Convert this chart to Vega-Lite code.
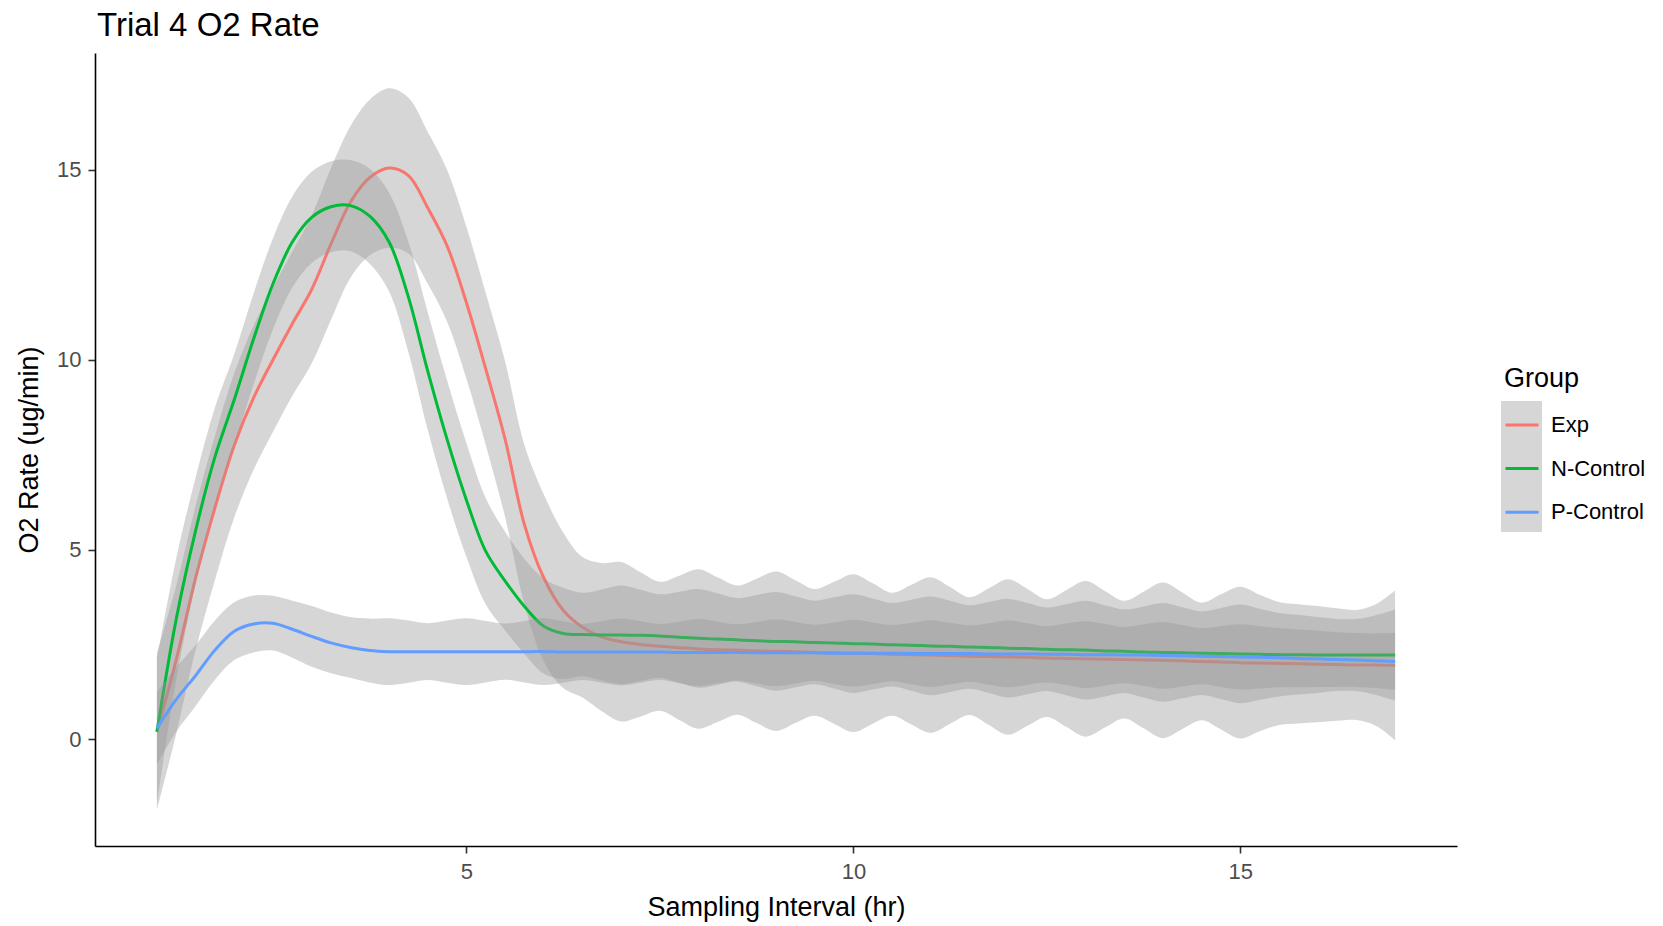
{
  "$schema": "https://vega.github.io/schema/vega-lite/v6.json",
  "width": 1362,
  "height": 793,
  "autosize": {"type": "none"},
  "padding": {"left": 95, "top": 53, "right": 206, "bottom": 80},
  "background": "white",
  "config": {
    "font": "Liberation Sans",
    "view": {"stroke": null},
    "axis": {
      "grid": false,
      "domainColor": "black",
      "domainWidth": 1.6,
      "tickColor": "#333333",
      "tickWidth": 1.6,
      "tickSize": 7,
      "labelColor": "#4D4D4D",
      "labelFontSize": 22,
      "labelFont": "Liberation Sans",
      "titleFont": "Liberation Sans",
      "titleFontSize": 27,
      "titleFontWeight": "normal",
      "titleColor": "black"
    }
  },
  "title": {
    "text": "Trial 4 O2 Rate",
    "anchor": "start",
    "frame": "group",
    "fontSize": 33,
    "fontWeight": "normal",
    "font": "Liberation Sans",
    "color": "black",
    "baseline": "alphabetic",
    "offset": 16,
    "dx": 2,
    "dy": 32
  },
  "data": {
    "values": [
      {"Group": "Exp", "hr": 1, "fit": 0.2, "lo": -1.86, "hi": 2.26},
      {"Group": "Exp", "hr": 1.25, "fit": 2.1, "lo": 0.15, "hi": 4.05},
      {"Group": "Exp", "hr": 1.5, "fit": 4.25, "lo": 2.35, "hi": 6.15},
      {"Group": "Exp", "hr": 1.75, "fit": 6.1, "lo": 4.2, "hi": 8.0},
      {"Group": "Exp", "hr": 2, "fit": 7.75, "lo": 5.85, "hi": 9.65},
      {"Group": "Exp", "hr": 2.25, "fit": 9.0, "lo": 7.1, "hi": 10.9},
      {"Group": "Exp", "hr": 2.5, "fit": 10.0, "lo": 8.1, "hi": 11.9},
      {"Group": "Exp", "hr": 2.75, "fit": 10.95, "lo": 9.05, "hi": 12.85},
      {"Group": "Exp", "hr": 3, "fit": 11.85, "lo": 9.9, "hi": 13.8},
      {"Group": "Exp", "hr": 3.25, "fit": 13.05, "lo": 11.05, "hi": 15.05},
      {"Group": "Exp", "hr": 3.5, "fit": 14.15, "lo": 12.15, "hi": 16.15},
      {"Group": "Exp", "hr": 3.75, "fit": 14.8, "lo": 12.75, "hi": 16.85},
      {"Group": "Exp", "hr": 4, "fit": 15.05, "lo": 12.95, "hi": 17.15},
      {"Group": "Exp", "hr": 4.25, "fit": 14.85, "lo": 12.8, "hi": 16.9},
      {"Group": "Exp", "hr": 4.5, "fit": 14.0, "lo": 12.0, "hi": 16.0},
      {"Group": "Exp", "hr": 4.75, "fit": 13.0, "lo": 11.0, "hi": 15.0},
      {"Group": "Exp", "hr": 5, "fit": 11.5, "lo": 9.5, "hi": 13.5},
      {"Group": "Exp", "hr": 5.25, "fit": 9.75, "lo": 7.75, "hi": 11.75},
      {"Group": "Exp", "hr": 5.5, "fit": 7.9, "lo": 5.85, "hi": 9.95},
      {"Group": "Exp", "hr": 5.75, "fit": 5.65, "lo": 3.55, "hi": 7.75},
      {"Group": "Exp", "hr": 6, "fit": 4.25, "lo": 2.05, "hi": 6.45},
      {"Group": "Exp", "hr": 6.25, "fit": 3.4, "lo": 1.35, "hi": 5.45},
      {"Group": "Exp", "hr": 6.5, "fit": 2.95, "lo": 1.1, "hi": 4.8},
      {"Group": "Exp", "hr": 6.75, "fit": 2.69, "lo": 0.74, "hi": 4.64},
      {"Group": "Exp", "hr": 7, "fit": 2.57, "lo": 0.47, "hi": 4.67},
      {"Group": "Exp", "hr": 7.25, "fit": 2.5, "lo": 0.6, "hi": 4.4},
      {"Group": "Exp", "hr": 7.5, "fit": 2.45, "lo": 0.75, "hi": 4.15},
      {"Group": "Exp", "hr": 7.75, "fit": 2.41, "lo": 0.51, "hi": 4.31},
      {"Group": "Exp", "hr": 8, "fit": 2.38, "lo": 0.28, "hi": 4.48},
      {"Group": "Exp", "hr": 8.25, "fit": 2.36, "lo": 0.46, "hi": 4.26},
      {"Group": "Exp", "hr": 8.5, "fit": 2.35, "lo": 0.65, "hi": 4.05},
      {"Group": "Exp", "hr": 8.75, "fit": 2.33, "lo": 0.43, "hi": 4.23},
      {"Group": "Exp", "hr": 9, "fit": 2.32, "lo": 0.22, "hi": 4.42},
      {"Group": "Exp", "hr": 9.25, "fit": 2.31, "lo": 0.43, "hi": 4.19},
      {"Group": "Exp", "hr": 9.5, "fit": 2.29, "lo": 0.62, "hi": 3.96},
      {"Group": "Exp", "hr": 9.75, "fit": 2.28, "lo": 0.41, "hi": 4.15},
      {"Group": "Exp", "hr": 10, "fit": 2.27, "lo": 0.19, "hi": 4.35},
      {"Group": "Exp", "hr": 10.25, "fit": 2.26, "lo": 0.41, "hi": 4.11},
      {"Group": "Exp", "hr": 10.5, "fit": 2.24, "lo": 0.62, "hi": 3.86},
      {"Group": "Exp", "hr": 10.75, "fit": 2.23, "lo": 0.39, "hi": 4.07},
      {"Group": "Exp", "hr": 11, "fit": 2.22, "lo": 0.17, "hi": 4.27},
      {"Group": "Exp", "hr": 11.25, "fit": 2.21, "lo": 0.41, "hi": 4.01},
      {"Group": "Exp", "hr": 11.5, "fit": 2.19, "lo": 0.64, "hi": 3.74},
      {"Group": "Exp", "hr": 11.75, "fit": 2.18, "lo": 0.38, "hi": 3.98},
      {"Group": "Exp", "hr": 12, "fit": 2.17, "lo": 0.12, "hi": 4.22},
      {"Group": "Exp", "hr": 12.25, "fit": 2.16, "lo": 0.36, "hi": 3.96},
      {"Group": "Exp", "hr": 12.5, "fit": 2.14, "lo": 0.59, "hi": 3.69},
      {"Group": "Exp", "hr": 12.75, "fit": 2.13, "lo": 0.33, "hi": 3.93},
      {"Group": "Exp", "hr": 13, "fit": 2.12, "lo": 0.07, "hi": 4.17},
      {"Group": "Exp", "hr": 13.25, "fit": 2.11, "lo": 0.31, "hi": 3.91},
      {"Group": "Exp", "hr": 13.5, "fit": 2.1, "lo": 0.55, "hi": 3.65},
      {"Group": "Exp", "hr": 13.75, "fit": 2.09, "lo": 0.29, "hi": 3.89},
      {"Group": "Exp", "hr": 14, "fit": 2.08, "lo": 0.03, "hi": 4.13},
      {"Group": "Exp", "hr": 14.25, "fit": 2.07, "lo": 0.27, "hi": 3.87},
      {"Group": "Exp", "hr": 14.5, "fit": 2.05, "lo": 0.5, "hi": 3.6},
      {"Group": "Exp", "hr": 14.75, "fit": 2.04, "lo": 0.26, "hi": 3.82},
      {"Group": "Exp", "hr": 15, "fit": 2.02, "lo": 0.02, "hi": 4.02},
      {"Group": "Exp", "hr": 15.25, "fit": 2.01, "lo": 0.21, "hi": 3.81},
      {"Group": "Exp", "hr": 15.5, "fit": 2.0, "lo": 0.38, "hi": 3.62},
      {"Group": "Exp", "hr": 15.75, "fit": 1.99, "lo": 0.42, "hi": 3.56},
      {"Group": "Exp", "hr": 16, "fit": 1.98, "lo": 0.45, "hi": 3.51},
      {"Group": "Exp", "hr": 16.25, "fit": 1.97, "lo": 0.49, "hi": 3.45},
      {"Group": "Exp", "hr": 16.5, "fit": 1.96, "lo": 0.51, "hi": 3.41},
      {"Group": "Exp", "hr": 16.75, "fit": 1.96, "lo": 0.36, "hi": 3.56},
      {"Group": "Exp", "hr": 17, "fit": 1.95, "lo": -0.02, "hi": 3.92},

      {"Group": "N-Control", "hr": 1, "fit": 0.2, "lo": -1.7, "hi": 2.1},
      {"Group": "N-Control", "hr": 1.25, "fit": 3.17, "lo": 1.57, "hi": 4.77},
      {"Group": "N-Control", "hr": 1.5, "fit": 5.5, "lo": 4.1, "hi": 6.9},
      {"Group": "N-Control", "hr": 1.75, "fit": 7.44, "lo": 6.14, "hi": 8.74},
      {"Group": "N-Control", "hr": 2, "fit": 8.95, "lo": 7.75, "hi": 10.15},
      {"Group": "N-Control", "hr": 2.25, "fit": 10.55, "lo": 9.35, "hi": 11.75},
      {"Group": "N-Control", "hr": 2.5, "fit": 12.0, "lo": 10.8, "hi": 13.2},
      {"Group": "N-Control", "hr": 2.75, "fit": 13.1, "lo": 11.9, "hi": 14.3},
      {"Group": "N-Control", "hr": 3, "fit": 13.75, "lo": 12.55, "hi": 14.95},
      {"Group": "N-Control", "hr": 3.25, "fit": 14.03, "lo": 12.83, "hi": 15.23},
      {"Group": "N-Control", "hr": 3.5, "fit": 14.06, "lo": 12.86, "hi": 15.26},
      {"Group": "N-Control", "hr": 3.75, "fit": 13.78, "lo": 12.53, "hi": 15.03},
      {"Group": "N-Control", "hr": 4, "fit": 13.1, "lo": 11.8, "hi": 14.4},
      {"Group": "N-Control", "hr": 4.25, "fit": 11.65, "lo": 10.2, "hi": 13.1},
      {"Group": "N-Control", "hr": 4.5, "fit": 9.7, "lo": 8.15, "hi": 11.25},
      {"Group": "N-Control", "hr": 4.75, "fit": 7.9, "lo": 6.35, "hi": 9.45},
      {"Group": "N-Control", "hr": 5, "fit": 6.3, "lo": 4.8, "hi": 7.8},
      {"Group": "N-Control", "hr": 5.25, "fit": 4.95, "lo": 3.55, "hi": 6.35},
      {"Group": "N-Control", "hr": 5.5, "fit": 4.17, "lo": 2.87, "hi": 5.47},
      {"Group": "N-Control", "hr": 5.75, "fit": 3.5, "lo": 2.25, "hi": 4.75},
      {"Group": "N-Control", "hr": 6, "fit": 2.98, "lo": 1.73, "hi": 4.23},
      {"Group": "N-Control", "hr": 6.25, "fit": 2.79, "lo": 1.59, "hi": 3.99},
      {"Group": "N-Control", "hr": 6.5, "fit": 2.76, "lo": 1.66, "hi": 3.86},
      {"Group": "N-Control", "hr": 6.75, "fit": 2.75, "lo": 1.55, "hi": 3.95},
      {"Group": "N-Control", "hr": 7, "fit": 2.75, "lo": 1.45, "hi": 4.05},
      {"Group": "N-Control", "hr": 7.25, "fit": 2.74, "lo": 1.54, "hi": 3.94},
      {"Group": "N-Control", "hr": 7.5, "fit": 2.72, "lo": 1.62, "hi": 3.82},
      {"Group": "N-Control", "hr": 7.75, "fit": 2.69, "lo": 1.49, "hi": 3.89},
      {"Group": "N-Control", "hr": 8, "fit": 2.66, "lo": 1.36, "hi": 3.96},
      {"Group": "N-Control", "hr": 8.25, "fit": 2.64, "lo": 1.44, "hi": 3.84},
      {"Group": "N-Control", "hr": 8.5, "fit": 2.62, "lo": 1.52, "hi": 3.72},
      {"Group": "N-Control", "hr": 8.75, "fit": 2.6, "lo": 1.4, "hi": 3.8},
      {"Group": "N-Control", "hr": 9, "fit": 2.58, "lo": 1.28, "hi": 3.88},
      {"Group": "N-Control", "hr": 9.25, "fit": 2.57, "lo": 1.37, "hi": 3.77},
      {"Group": "N-Control", "hr": 9.5, "fit": 2.55, "lo": 1.45, "hi": 3.65},
      {"Group": "N-Control", "hr": 9.75, "fit": 2.54, "lo": 1.34, "hi": 3.74},
      {"Group": "N-Control", "hr": 10, "fit": 2.52, "lo": 1.22, "hi": 3.82},
      {"Group": "N-Control", "hr": 10.25, "fit": 2.51, "lo": 1.31, "hi": 3.71},
      {"Group": "N-Control", "hr": 10.5, "fit": 2.49, "lo": 1.39, "hi": 3.59},
      {"Group": "N-Control", "hr": 10.75, "fit": 2.48, "lo": 1.28, "hi": 3.68},
      {"Group": "N-Control", "hr": 11, "fit": 2.46, "lo": 1.16, "hi": 3.76},
      {"Group": "N-Control", "hr": 11.25, "fit": 2.45, "lo": 1.25, "hi": 3.65},
      {"Group": "N-Control", "hr": 11.5, "fit": 2.43, "lo": 1.33, "hi": 3.53},
      {"Group": "N-Control", "hr": 11.75, "fit": 2.42, "lo": 1.22, "hi": 3.62},
      {"Group": "N-Control", "hr": 12, "fit": 2.4, "lo": 1.1, "hi": 3.7},
      {"Group": "N-Control", "hr": 12.25, "fit": 2.39, "lo": 1.19, "hi": 3.59},
      {"Group": "N-Control", "hr": 12.5, "fit": 2.37, "lo": 1.27, "hi": 3.47},
      {"Group": "N-Control", "hr": 12.75, "fit": 2.36, "lo": 1.16, "hi": 3.56},
      {"Group": "N-Control", "hr": 13, "fit": 2.35, "lo": 1.05, "hi": 3.65},
      {"Group": "N-Control", "hr": 13.25, "fit": 2.33, "lo": 1.13, "hi": 3.53},
      {"Group": "N-Control", "hr": 13.5, "fit": 2.32, "lo": 1.22, "hi": 3.42},
      {"Group": "N-Control", "hr": 13.75, "fit": 2.3, "lo": 1.1, "hi": 3.5},
      {"Group": "N-Control", "hr": 14, "fit": 2.29, "lo": 0.99, "hi": 3.59},
      {"Group": "N-Control", "hr": 14.25, "fit": 2.28, "lo": 1.08, "hi": 3.48},
      {"Group": "N-Control", "hr": 14.5, "fit": 2.27, "lo": 1.17, "hi": 3.37},
      {"Group": "N-Control", "hr": 14.75, "fit": 2.26, "lo": 1.06, "hi": 3.46},
      {"Group": "N-Control", "hr": 15, "fit": 2.25, "lo": 0.95, "hi": 3.55},
      {"Group": "N-Control", "hr": 15.25, "fit": 2.24, "lo": 1.04, "hi": 3.44},
      {"Group": "N-Control", "hr": 15.5, "fit": 2.23, "lo": 1.13, "hi": 3.33},
      {"Group": "N-Control", "hr": 15.75, "fit": 2.23, "lo": 1.18, "hi": 3.28},
      {"Group": "N-Control", "hr": 16, "fit": 2.22, "lo": 1.22, "hi": 3.22},
      {"Group": "N-Control", "hr": 16.25, "fit": 2.22, "lo": 1.27, "hi": 3.17},
      {"Group": "N-Control", "hr": 16.5, "fit": 2.22, "lo": 1.27, "hi": 3.17},
      {"Group": "N-Control", "hr": 16.75, "fit": 2.22, "lo": 1.17, "hi": 3.27},
      {"Group": "N-Control", "hr": 17, "fit": 2.22, "lo": 1.02, "hi": 3.42},

      {"Group": "P-Control", "hr": 1, "fit": 0.29, "lo": -0.66, "hi": 1.24},
      {"Group": "P-Control", "hr": 1.25, "fit": 1.05, "lo": 0.2, "hi": 1.9},
      {"Group": "P-Control", "hr": 1.5, "fit": 1.68, "lo": 0.88, "hi": 2.48},
      {"Group": "P-Control", "hr": 1.75, "fit": 2.35, "lo": 1.57, "hi": 3.13},
      {"Group": "P-Control", "hr": 2, "fit": 2.85, "lo": 2.09, "hi": 3.61},
      {"Group": "P-Control", "hr": 2.25, "fit": 3.04, "lo": 2.29, "hi": 3.79},
      {"Group": "P-Control", "hr": 2.5, "fit": 3.06, "lo": 2.34, "hi": 3.78},
      {"Group": "P-Control", "hr": 2.75, "fit": 2.9, "lo": 2.15, "hi": 3.65},
      {"Group": "P-Control", "hr": 3, "fit": 2.71, "lo": 1.91, "hi": 3.51},
      {"Group": "P-Control", "hr": 3.25, "fit": 2.54, "lo": 1.74, "hi": 3.34},
      {"Group": "P-Control", "hr": 3.5, "fit": 2.42, "lo": 1.62, "hi": 3.22},
      {"Group": "P-Control", "hr": 3.75, "fit": 2.34, "lo": 1.5, "hi": 3.18},
      {"Group": "P-Control", "hr": 4, "fit": 2.31, "lo": 1.43, "hi": 3.19},
      {"Group": "P-Control", "hr": 4.25, "fit": 2.31, "lo": 1.49, "hi": 3.13},
      {"Group": "P-Control", "hr": 4.5, "fit": 2.31, "lo": 1.56, "hi": 3.06},
      {"Group": "P-Control", "hr": 4.75, "fit": 2.31, "lo": 1.49, "hi": 3.13},
      {"Group": "P-Control", "hr": 5, "fit": 2.31, "lo": 1.43, "hi": 3.19},
      {"Group": "P-Control", "hr": 5.25, "fit": 2.31, "lo": 1.5, "hi": 3.12},
      {"Group": "P-Control", "hr": 5.5, "fit": 2.31, "lo": 1.57, "hi": 3.05},
      {"Group": "P-Control", "hr": 5.75, "fit": 2.31, "lo": 1.5, "hi": 3.12},
      {"Group": "P-Control", "hr": 6, "fit": 2.31, "lo": 1.43, "hi": 3.19},
      {"Group": "P-Control", "hr": 6.25, "fit": 2.3, "lo": 1.49, "hi": 3.11},
      {"Group": "P-Control", "hr": 6.5, "fit": 2.3, "lo": 1.56, "hi": 3.04},
      {"Group": "P-Control", "hr": 6.75, "fit": 2.3, "lo": 1.49, "hi": 3.11},
      {"Group": "P-Control", "hr": 7, "fit": 2.3, "lo": 1.42, "hi": 3.18},
      {"Group": "P-Control", "hr": 7.25, "fit": 2.3, "lo": 1.49, "hi": 3.11},
      {"Group": "P-Control", "hr": 7.5, "fit": 2.3, "lo": 1.56, "hi": 3.04},
      {"Group": "P-Control", "hr": 7.75, "fit": 2.29, "lo": 1.48, "hi": 3.1},
      {"Group": "P-Control", "hr": 8, "fit": 2.29, "lo": 1.41, "hi": 3.17},
      {"Group": "P-Control", "hr": 8.25, "fit": 2.29, "lo": 1.48, "hi": 3.1},
      {"Group": "P-Control", "hr": 8.5, "fit": 2.29, "lo": 1.55, "hi": 3.03},
      {"Group": "P-Control", "hr": 8.75, "fit": 2.28, "lo": 1.47, "hi": 3.09},
      {"Group": "P-Control", "hr": 9, "fit": 2.28, "lo": 1.4, "hi": 3.16},
      {"Group": "P-Control", "hr": 9.25, "fit": 2.28, "lo": 1.47, "hi": 3.09},
      {"Group": "P-Control", "hr": 9.5, "fit": 2.28, "lo": 1.54, "hi": 3.02},
      {"Group": "P-Control", "hr": 9.75, "fit": 2.27, "lo": 1.46, "hi": 3.08},
      {"Group": "P-Control", "hr": 10, "fit": 2.27, "lo": 1.39, "hi": 3.15},
      {"Group": "P-Control", "hr": 10.25, "fit": 2.27, "lo": 1.46, "hi": 3.08},
      {"Group": "P-Control", "hr": 10.5, "fit": 2.27, "lo": 1.53, "hi": 3.01},
      {"Group": "P-Control", "hr": 10.75, "fit": 2.26, "lo": 1.45, "hi": 3.07},
      {"Group": "P-Control", "hr": 11, "fit": 2.26, "lo": 1.38, "hi": 3.14},
      {"Group": "P-Control", "hr": 11.25, "fit": 2.26, "lo": 1.45, "hi": 3.07},
      {"Group": "P-Control", "hr": 11.5, "fit": 2.26, "lo": 1.52, "hi": 3.0},
      {"Group": "P-Control", "hr": 11.75, "fit": 2.25, "lo": 1.44, "hi": 3.06},
      {"Group": "P-Control", "hr": 12, "fit": 2.25, "lo": 1.37, "hi": 3.13},
      {"Group": "P-Control", "hr": 12.25, "fit": 2.25, "lo": 1.44, "hi": 3.06},
      {"Group": "P-Control", "hr": 12.5, "fit": 2.24, "lo": 1.5, "hi": 2.98},
      {"Group": "P-Control", "hr": 12.75, "fit": 2.24, "lo": 1.43, "hi": 3.05},
      {"Group": "P-Control", "hr": 13, "fit": 2.23, "lo": 1.35, "hi": 3.11},
      {"Group": "P-Control", "hr": 13.25, "fit": 2.23, "lo": 1.42, "hi": 3.04},
      {"Group": "P-Control", "hr": 13.5, "fit": 2.22, "lo": 1.48, "hi": 2.96},
      {"Group": "P-Control", "hr": 13.75, "fit": 2.22, "lo": 1.41, "hi": 3.03},
      {"Group": "P-Control", "hr": 14, "fit": 2.21, "lo": 1.33, "hi": 3.09},
      {"Group": "P-Control", "hr": 14.25, "fit": 2.2, "lo": 1.39, "hi": 3.01},
      {"Group": "P-Control", "hr": 14.5, "fit": 2.19, "lo": 1.45, "hi": 2.93},
      {"Group": "P-Control", "hr": 14.75, "fit": 2.18, "lo": 1.38, "hi": 2.98},
      {"Group": "P-Control", "hr": 15, "fit": 2.17, "lo": 1.31, "hi": 3.03},
      {"Group": "P-Control", "hr": 15.25, "fit": 2.16, "lo": 1.34, "hi": 2.98},
      {"Group": "P-Control", "hr": 15.5, "fit": 2.15, "lo": 1.37, "hi": 2.93},
      {"Group": "P-Control", "hr": 15.75, "fit": 2.13, "lo": 1.37, "hi": 2.89},
      {"Group": "P-Control", "hr": 16, "fit": 2.12, "lo": 1.38, "hi": 2.86},
      {"Group": "P-Control", "hr": 16.25, "fit": 2.1, "lo": 1.38, "hi": 2.82},
      {"Group": "P-Control", "hr": 16.5, "fit": 2.09, "lo": 1.38, "hi": 2.8},
      {"Group": "P-Control", "hr": 16.75, "fit": 2.07, "lo": 1.35, "hi": 2.79},
      {"Group": "P-Control", "hr": 17, "fit": 2.05, "lo": 1.3, "hi": 2.8}
    ]
  },
  "encoding": {
    "x": {
      "field": "hr",
      "type": "quantitative",
      "scale": {"domain": [0.2, 17.8], "nice": false, "zero": false},
      "axis": {"values": [5, 10, 15], "title": "Sampling Interval (hr)", "labelPadding": 8, "titlePadding": 12, "labelFlush": false}
    }
  },
  "layer": [
    {
      "transform": [{"filter": "datum.Group === 'Exp'"}],
      "mark": {"type": "area", "interpolate": "catmull-rom", "fillOpacity": 0.4},
      "encoding": {
        "y": {"field": "lo", "type": "quantitative", "scale": {"domain": [-2.81, 18.08], "nice": false, "zero": false},
              "axis": {"values": [0, 5, 10, 15], "title": "O2 Rate (ug/min)", "labelPadding": 7, "titlePadding": 13}},
        "y2": {"field": "hi"},
        "fill": {"field": "Group", "type": "nominal",
                 "scale": {"domain": ["Exp", "N-Control", "P-Control"], "range": ["#999999", "#999999", "#999999"]},
                 "legend": {"orient": "none", "legendX": 1406, "legendY": 393, "title": null, "padding": 0,
                            "values": ["Exp"],
                            "symbolType": "M-1,-3.2H1V3.2H-1Z", "symbolSize": 1681, "symbolStrokeWidth": 0,
                            "symbolOpacity": 0.4, "rowPadding": 0, "labelExpr": "''", "labelFontSize": 1, "labelOffset": 0}}
      }
    },
    {
      "transform": [{"filter": "datum.Group === 'Exp'"}],
      "mark": {"type": "line", "interpolate": "catmull-rom", "strokeWidth": 3},
      "encoding": {
        "y": {"field": "fit", "type": "quantitative", "scale": {"domain": [-2.81, 18.08], "nice": false, "zero": false},
              "axis": {"values": [0, 5, 10, 15], "title": "O2 Rate (ug/min)", "labelPadding": 7, "titlePadding": 13}},
        "stroke": {"field": "Group", "type": "nominal",
                   "scale": {"range": ["#F8766D", "#00BA38", "#619CFF"]},
                   "legend": {"orient": "none", "legendX": 1409, "legendY": 313, "title": "Group", "padding": 0,
                              "titleFontSize": 27, "titleFont": "Liberation Sans", "titleFontWeight": "normal", "titleColor": "black",
                              "titlePadding": 14, "symbolType": "stroke", "symbolSize": 1089, "symbolStrokeWidth": 3,
                              "labelFontSize": 22, "labelFont": "Liberation Sans", "labelColor": "black", "labelOffset": 11,
                              "rowPadding": 14.6}}
      }
    },
    {
      "transform": [{"filter": "datum.Group === 'N-Control'"}],
      "mark": {"type": "area", "interpolate": "catmull-rom", "fillOpacity": 0.4},
      "encoding": {
        "y": {"field": "lo", "type": "quantitative"},
        "y2": {"field": "hi"},
        "fill": {"field": "Group", "type": "nominal"}
      }
    },
    {
      "transform": [{"filter": "datum.Group === 'N-Control'"}],
      "mark": {"type": "line", "interpolate": "catmull-rom", "strokeWidth": 3},
      "encoding": {
        "y": {"field": "fit", "type": "quantitative"},
        "stroke": {"field": "Group", "type": "nominal"}
      }
    },
    {
      "transform": [{"filter": "datum.Group === 'P-Control'"}],
      "mark": {"type": "area", "interpolate": "catmull-rom", "fillOpacity": 0.4},
      "encoding": {
        "y": {"field": "lo", "type": "quantitative"},
        "y2": {"field": "hi"},
        "fill": {"field": "Group", "type": "nominal"}
      }
    },
    {
      "transform": [{"filter": "datum.Group === 'P-Control'"}],
      "mark": {"type": "line", "interpolate": "catmull-rom", "strokeWidth": 3},
      "encoding": {
        "y": {"field": "fit", "type": "quantitative"},
        "stroke": {"field": "Group", "type": "nominal"}
      }
    }
  ]
}
